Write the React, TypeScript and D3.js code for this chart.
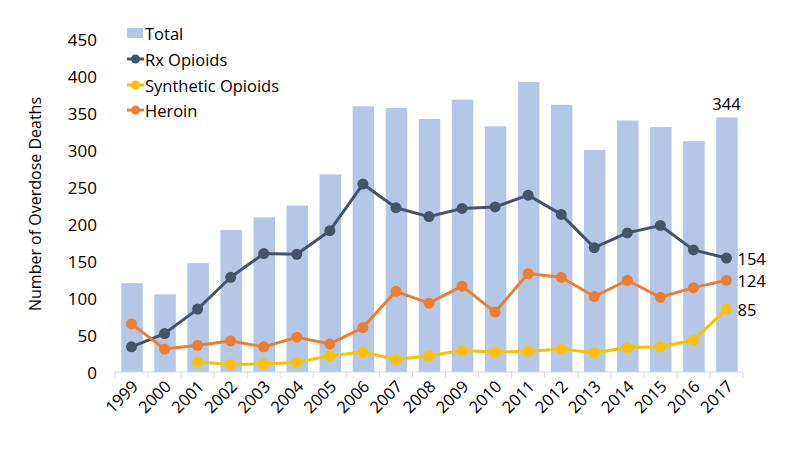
import React, { useLayoutEffect } from "react";
import * as d3 from "d3";

const years = ["1999","2000","2001","2002","2003","2004","2005","2006","2007","2008","2009","2010","2011","2012","2013","2014","2015","2016","2017"];
const total = [120,105,147,192,209,225,267,359,357,342,368,332,392,361,300,340,331,312,344];
const rxOpioids = [34,52,85,128,160,159,191,254,222,210,221,223,239,213,168,188,198,165,154];
const synthetic: (number | null)[] = [null,null,14,10,11,13,22,27,17,22,29,27,28,31,26,33,34,43,85];
const heroin = [65,31,36,42,34,47,38,60,109,93,116,81,133,128,102,124,101,114,124];
const yTicks = [0,50,100,150,200,250,300,350,400,450];

const C_TOTAL = "#b4c7e7";
const C_RX = "#44546a";
const C_SYN = "#ffc000";
const C_HER = "#ed7d31";
const FONT = "'Open Sans', sans-serif";

export default function App() {
  useLayoutEffect(() => {
    document.body.style.margin = "0";
  }, []);

  const W = 800, H = 452;
  const x0 = 115, x1 = 743, yBase = 372, yTop = 39;
  const x = d3.scaleBand<string>().domain(years).range([x0, x1]).paddingInner(0.35).paddingOuter(0.175);
  const xb = d3.scaleBand<string>().domain(years).range([x0, x1]);
  const y = d3.scaleLinear().domain([0, 450]).range([yBase, yTop]);
  const cx = (yr: string) => (xb(yr) as number) + xb.bandwidth() / 2;

  const mkLine = (vals: (number | null)[]) =>
    d3.line<number | null>()
      .defined((d) => d !== null)
      .x((_, i) => cx(years[i]))
      .y((d) => y(d as number))(vals) as string;

  const series = [
    { name: "Rx Opioids", vals: rxOpioids, color: C_RX },
    { name: "Synthetic Opioids", vals: synthetic, color: C_SYN },
    { name: "Heroin", vals: heroin, color: C_HER },
  ];

  const last = years[years.length - 1];
  const legendY = [33, 59, 85, 110];

  return (
    <svg width={W} height={H} style={{ display: "block", background: "#fff" }} fontFamily={FONT}>
      {/* bars */}
      {years.map((yr, i) => (
        <rect key={yr} x={(x(yr) as number) + 0.5} y={y(total[i])} width={x.bandwidth()} height={yBase - y(total[i])} fill={C_TOTAL} />
      ))}
      {/* x axis */}
      <line x1={x0} x2={x1} y1={yBase} y2={yBase} stroke="#d9d9d9" strokeWidth={1} />
      {years.concat(["end"]).map((yr, i) => {
        const xx = i < years.length ? (xb(yr) as number) : x1;
        return <line key={"t" + i} x1={xx} x2={xx} y1={yBase} y2={yBase + 6} stroke="#d9d9d9" strokeWidth={1} />;
      })}
      {years.map((yr) => (
        <text key={"xl" + yr} transform={`translate(${cx(yr) + 3},${yBase + 11}) rotate(-45)`} textAnchor="end" dominantBaseline="central" fontSize={16.5} fill="#000">
          {yr}
        </text>
      ))}
      {/* y axis labels */}
      {yTicks.map((t) => (
        <text key={"yl" + t} x={97} y={y(t)} textAnchor="end" dominantBaseline="central" fontSize={17} fill="#000">
          {t}
        </text>
      ))}
      <text transform={`translate(35,204) rotate(-90)`} textAnchor="middle" dominantBaseline="central" fontSize={16} fill="#000">
        Number of Overdose Deaths
      </text>
      {/* lines */}
      {series.map((s) => (
        <g key={s.name}>
          <path d={mkLine(s.vals)} fill="none" stroke={s.color} strokeWidth={3} strokeLinejoin="round" />
          {s.vals.map((v, i) =>
            v === null ? null : <circle key={i} cx={cx(years[i])} cy={y(v)} r={5.5} fill={s.color} />
          )}
        </g>
      ))}
      {/* data labels */}
      <text x={cx(last)} y={y(total[total.length - 1]) - 14} textAnchor="middle" dominantBaseline="central" fontSize={16.5} fill="#000">
        {total[total.length - 1]}
      </text>
      {[rxOpioids, heroin, synthetic].map((vals, k) => (
        <text key={"dl" + k} x={cx(last) + 11} y={y(vals[vals.length - 1] as number)} dominantBaseline="central" fontSize={16.5} fill="#000">
          {vals[vals.length - 1]}
        </text>
      ))}
      {/* legend */}
      <rect x={127} y={legendY[0] - 5} width={16} height={10} fill={C_TOTAL} />
      <text x={145} y={legendY[0]} dominantBaseline="central" fontSize={16.5} fill="#000">Total</text>
      {series.map((s, i) => (
        <g key={"lg" + s.name}>
          <line x1={127} x2={144} y1={legendY[i + 1]} y2={legendY[i + 1]} stroke={s.color} strokeWidth={3} />
          <circle cx={135.5} cy={legendY[i + 1]} r={4.5} fill={s.color} />
          <text x={145} y={legendY[i + 1]} dominantBaseline="central" fontSize={16.5} fill="#000">{s.name}</text>
        </g>
      ))}
    </svg>
  );
}
